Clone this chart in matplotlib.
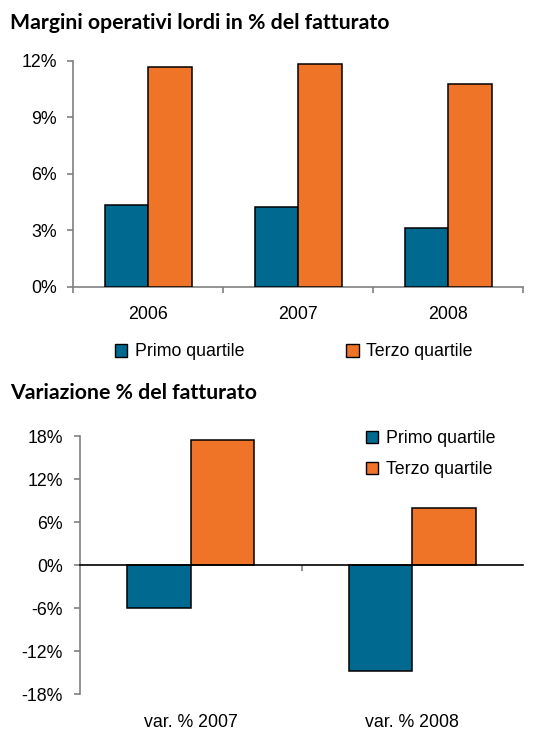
import matplotlib
matplotlib.use("Agg")
import matplotlib.pyplot as plt
import numpy as np
from matplotlib.ticker import FuncFormatter, FixedLocator
from matplotlib.patches import Patch

# ---- data ----
years = ["2006", "2007", "2008"]
margin_primo = [4.37, 4.27, 3.12]
margin_terzo = [11.70, 11.83, 10.76]

var_labels = ["var. % 2007", "var. % 2008"]
var_primo = [-5.9, -14.8]
var_terzo = [17.5, 7.95]

series_names = ["Primo quartile", "Terzo quartile"]
blue = "#006990"
orange = "#F07427"
spine_col = "#808080"

plt.rcParams['font.family'] = ['Liberation Sans', 'DejaVu Sans']
tick_fs = 12.8

fig = plt.figure(figsize=(5.52, 7.31), dpi=100)

pct = FuncFormatter(lambda v, p: f"{v:.0f}%")

# ---- top chart ----
ax1 = fig.add_axes([73/552, 1-287/731, (523-73)/552, (287-61)/731])
x = np.arange(len(years))
w = 0.29
ax1.bar(x - w/2, margin_primo, w, color=blue, edgecolor="black", linewidth=1.1, zorder=3)
ax1.bar(x + w/2, margin_terzo, w, color=orange, edgecolor="black", linewidth=1.1, zorder=3)
ax1.set_xlim(-0.5, len(years) - 0.5)
ax1.set_ylim(0, 12)
ax1.set_yticks([0, 3, 6, 9, 12])
ax1.yaxis.set_major_formatter(pct)
ax1.set_xticks(x)
ax1.set_xticklabels(years)
ax1.xaxis.set_minor_locator(FixedLocator(np.arange(-0.5, len(years), 1.0)))
ax1.tick_params(axis='x', which='major', length=0, pad=14, labelsize=tick_fs)
ax1.tick_params(axis='x', which='minor', length=4.5, color=spine_col, width=1.2)
ax1.tick_params(axis='y', length=4.5, color=spine_col, width=1.2, pad=7, labelsize=tick_fs)
for s in ['top', 'right']:
    ax1.spines[s].set_visible(False)
for s in ['left', 'bottom']:
    ax1.spines[s].set_color(spine_col)
    ax1.spines[s].set_linewidth(1.2)

fig.text(10/552, 1-23/731, "Margini operativi lordi in % del fatturato",
         fontsize=15.3, fontweight='bold', family=['Lato', 'DejaVu Sans'], va='center', ha='left')

handles = [Patch(facecolor=blue, edgecolor='black', linewidth=1.0),
           Patch(facecolor=orange, edgecolor='black', linewidth=1.0)]
fig.legend(handles, series_names, loc='center left', bbox_to_anchor=(115/552, 1-352/731),
           ncol=2, frameon=False, fontsize=tick_fs, handlelength=0.7, handleheight=0.7,
           handletextpad=0.4, columnspacing=5.75, borderaxespad=0, borderpad=0)

# ---- bottom chart ----
ax2 = fig.add_axes([80/552, 1-694.3/731, (523-80)/552, (694.3-436.3)/731])
x2 = np.arange(len(var_labels))
w2 = 0.287
ax2.bar(x2 - w2/2, var_primo, w2, color=blue, edgecolor="black", linewidth=1.1, zorder=3)
ax2.bar(x2 + w2/2, var_terzo, w2, color=orange, edgecolor="black", linewidth=1.1, zorder=3)
ax2.set_xlim(-0.5, len(var_labels) - 0.5)
ax2.set_ylim(-18, 18)
ax2.set_yticks([-18, -12, -6, 0, 6, 12, 18])
ax2.yaxis.set_major_formatter(pct)
# zero line axis with boundary ticks
ax2.spines['bottom'].set_position(('data', 0))
ax2.spines['bottom'].set_color('black')
ax2.spines['bottom'].set_linewidth(1.2)
ax2.spines['bottom'].set_zorder(4)
ax2.set_xticks(x2)
ax2.set_xticklabels([])
ax2.xaxis.set_minor_locator(FixedLocator(np.arange(0.5, len(var_labels) - 1, 1.0)))
ax2.tick_params(axis='x', which='major', length=0)
ax2.tick_params(axis='x', which='minor', length=4.5, color=spine_col, width=1.2, direction='out')
ax2.tick_params(axis='y', length=4.5, color=spine_col, width=1.2, pad=8, labelsize=tick_fs)
for s in ['top', 'right']:
    ax2.spines[s].set_visible(False)
ax2.spines['left'].set_color(spine_col)
ax2.spines['left'].set_linewidth(1.2)
sec = ax2.secondary_xaxis(0)
sec.set_xticks(x2)
sec.set_xticklabels(var_labels)
sec.tick_params(axis='x', length=0, pad=14, labelsize=tick_fs)
sec.spines['bottom'].set_visible(False)

fig.text(10/552, 1-393/731, "Variazione % del fatturato",
         fontsize=15.3, fontweight='bold', family=['Lato', 'DejaVu Sans'], va='center', ha='left')

ax2.legend(handles, series_names, loc='upper left', bbox_to_anchor=(366/552, 1-430/731),
           bbox_transform=fig.transFigure, frameon=False, fontsize=tick_fs,
           handlelength=0.7, handleheight=0.7, handletextpad=0.4, labelspacing=0.8,
           borderaxespad=0, borderpad=0)

fig.savefig("out.png", dpi=100)
